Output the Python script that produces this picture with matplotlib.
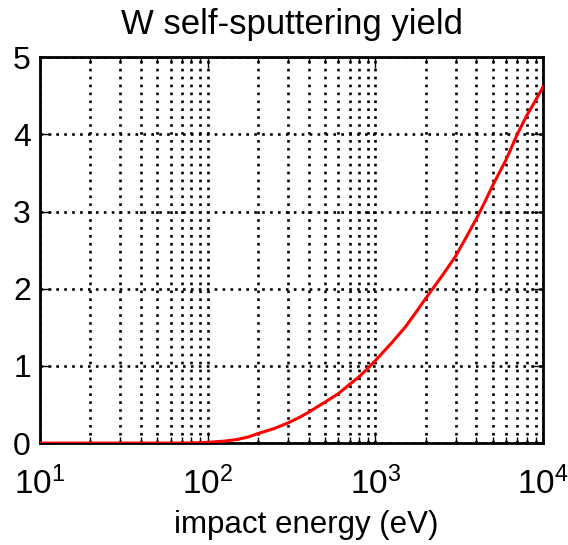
import matplotlib
matplotlib.use("Agg")
import matplotlib.pyplot as plt
from matplotlib.ticker import LogLocator, FixedLocator

# W self-sputtering yield vs impact energy
energy_ev = [10, 50, 70, 80, 90, 100, 125, 150, 175, 200, 250, 300, 350, 400,
             450, 500, 600, 700, 800, 900, 1000, 1250, 1500, 1750, 2000, 2500,
             3000, 3500, 4000, 4500, 5000, 6000, 7000, 8000, 9000, 10000]
yield_w = [0.0, 0.0, 0.0, 0.002, 0.005, 0.01, 0.025, 0.047, 0.08, 0.125, 0.19,
           0.26, 0.33, 0.40, 0.47, 0.53, 0.64, 0.76, 0.86, 0.97, 1.07, 1.30,
           1.50, 1.70, 1.88, 2.17, 2.42, 2.68, 2.91, 3.13, 3.34, 3.67, 4.00,
           4.25, 4.44, 4.62]
y_ticks = [0, 1, 2, 3, 4, 5]
x_ticks = [10, 100, 1000, 10000]
x_tick_labels = [r"$10^1$", r"$10^2$", r"$10^3$", r"$10^4$"]

plt.rcParams['font.family'] = ['Liberation Sans', 'DejaVu Sans']
plt.rcParams['mathtext.fontset'] = 'custom'
plt.rcParams['mathtext.rm'] = 'Liberation Sans'
plt.rcParams['mathtext.it'] = 'Liberation Sans'

fig = plt.figure(figsize=(5.68, 5.45), dpi=100)
ax = fig.add_axes([0.0704, 0.187, 0.886, 0.708])

ax.plot(energy_ev, yield_w, color='red', linewidth=2.2, zorder=3,
        solid_joinstyle='round')

ax.set_xscale('log')
ax.set_xlim(10, 10000)
ax.set_ylim(0, 5)
ax.xaxis.set_major_locator(FixedLocator(x_ticks))
ax.set_xticklabels(x_tick_labels)
ax.xaxis.set_minor_locator(LogLocator(base=10, subs=range(2, 10)))
ax.xaxis.set_minor_formatter(plt.NullFormatter())
ax.set_yticks(y_ticks)

dots = (0, (1, 2))
ax.grid(True, which='major', color='black', linestyle=dots, linewidth=1.9)
ax.grid(True, which='minor', axis='x', color='black', linestyle=dots, linewidth=1.9)

for s in ax.spines.values():
    s.set_linewidth(2)

ax.tick_params(which='both', direction='in', top=True, right=True, width=1)
ax.tick_params(which='major', length=8)
ax.tick_params(which='minor', length=4)
ax.tick_params(axis='x', which='major', labelsize=24, pad=17)
ax.tick_params(axis='y', which='major', labelsize=23, pad=6.5)

ax.set_xlabel('impact energy (eV)', fontsize=22.5)
ax.xaxis.set_label_coords(0.529, -0.233)
ax.xaxis.label.set_va('baseline')
ax.set_title('W self-sputtering yield', fontsize=25, pad=16.5)

fig.savefig('out.png', dpi=100)
